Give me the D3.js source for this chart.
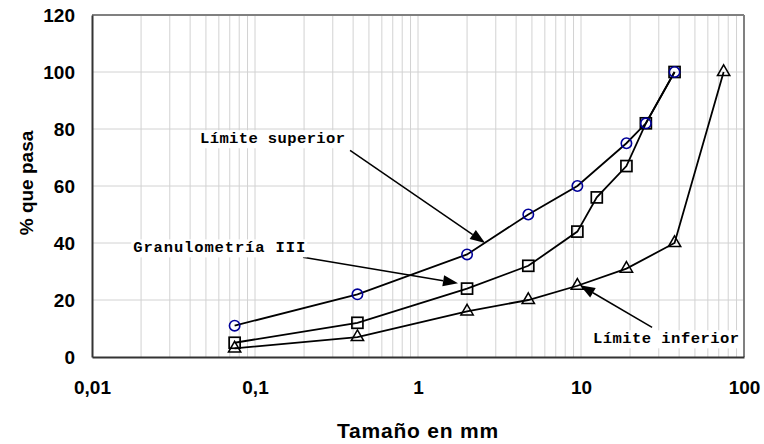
<!DOCTYPE html>
<html>
<head>
<meta charset="utf-8">
<script src="https://cdn.jsdelivr.net/npm/d3@7/dist/d3.min.js"></script>
<style>
  html, body { margin: 0; padding: 0; background: #fff; }
  svg { display: block; }
</style>
</head>
<body>
<svg id="chart" width="764" height="444"></svg>
<script>
// Sieve openings (mm) and percent passing for each curve
const supSizes  = [0.075, 0.425, 2, 4.75, 9.5, 19, 25, 37.5];
const supVals   = [11, 22, 36, 50, 60, 75, 82, 100];
const granSizes = [0.075, 0.425, 2, 4.75, 9.5, 12.5, 19, 25, 37.5];
const granVals  = [5, 12, 24, 32, 44, 56, 67, 82, 100];
const infSizes  = [0.075, 0.425, 2, 4.75, 9.5, 19, 37.5, 75];
const infVals   = [3, 7, 16, 20, 25, 31, 40, 100];

const xTicks = [0.01, 0.1, 1, 10, 100];
const xTickLabels = ["0,01", "0,1", "1", "10", "100"];
const yTicks = [0, 20, 40, 60, 80, 100, 120];

// Callout labels: text, label start [mm, %], arrow from [mm, %] to [mm, %], text width
const callouts = [
  { text: "Límite superior",   at: [0.046, 75],    from: [0.383, 72.5], to: [2.58, 40],   w: 145 },
  { text: "Granulometría III", at: [0.0179, 36.7], from: [0.197, 35],   to: [1.76, 25.9], w: 172 },
  { text: "Límite inferior",   at: [11.85, 4.8],   from: [27.3, 10.4],  to: [9.86, 25.2], w: 146 }
];

const margin = { left: 92, top: 15, right: 20, bottom: 87 };
const W = 764, H = 444;
const iw = W - margin.left - margin.right;
const ih = H - margin.top - margin.bottom;

const svg = d3.select("#chart");
const g = svg.append("g").attr("transform", `translate(${margin.left},${margin.top})`);

const x = d3.scaleLog().domain([0.01, 100]).range([0, iw]);
const y = d3.scaleLinear().domain([0, 120]).range([ih, 0]);

// Grid: every 1..9 step of each decade, horizontal every 20
const minor = [];
for (let e = -2; e < 2; e++) for (let k = 1; k < 10; k++) minor.push(k * Math.pow(10, e));
g.append("g").selectAll("line").data(minor.filter(v => v > 0.01)).join("line")
  .attr("x1", d => x(d)).attr("x2", d => x(d))
  .attr("y1", 0).attr("y2", ih)
  .attr("stroke", "#d2d2d2").attr("stroke-width", 1);
g.append("g").selectAll("line").data(yTicks.filter(v => v > 0 && v < 120)).join("line")
  .attr("x1", 0).attr("x2", iw)
  .attr("y1", d => y(d)).attr("y2", d => y(d))
  .attr("stroke", "#d2d2d2").attr("stroke-width", 1);

// Frame: gray top/right, dark axes left/bottom
g.append("line").attr("x1", 0).attr("x2", iw).attr("y1", 0).attr("y2", 0)
  .attr("stroke", "#808080").attr("stroke-width", 2);
g.append("line").attr("x1", iw).attr("x2", iw).attr("y1", 0).attr("y2", ih)
  .attr("stroke", "#808080").attr("stroke-width", 2);

// Axes (labels only, no tick marks)
const xAxis = d3.axisBottom(x).tickValues(xTicks)
  .tickFormat((d, i) => xTickLabels[i]).tickSize(0).tickPadding(24);
const gx = g.append("g").attr("transform", `translate(0,${ih})`).call(xAxis);
gx.select(".domain").attr("stroke", "#333").attr("stroke-width", 2);
gx.selectAll("text").attr("font-family", "Liberation Sans, Arial, sans-serif")
  .attr("font-weight", "bold").attr("font-size", 19).attr("fill", "#000");

const yAxis = d3.axisLeft(y).tickValues(yTicks).tickSize(0).tickPadding(17);
const gy = g.append("g").call(yAxis);
gy.select(".domain").attr("stroke", "#333").attr("stroke-width", 2);
gy.selectAll("text").attr("font-family", "Liberation Sans, Arial, sans-serif")
  .attr("font-weight", "bold").attr("font-size", 19).attr("fill", "#000");

// Axis titles
svg.append("text")
  .attr("x", margin.left + iw / 2).attr("y", 438)
  .attr("text-anchor", "middle")
  .attr("font-family", "Liberation Sans, Arial, sans-serif")
  .attr("font-weight", "bold").attr("font-size", 21)
  .attr("letter-spacing", 0.8)
  .text("Tamaño en mm");
svg.append("text")
  .attr("transform", `translate(33,${margin.top + ih / 2 - 3}) rotate(-90)`)
  .attr("text-anchor", "middle")
  .attr("font-family", "Liberation Sans, Arial, sans-serif")
  .attr("font-weight", "bold").attr("font-size", 19)
  .text("% que pasa");

// Curves
const series = [
  { sizes: infSizes,  vals: infVals,  shape: "triangle" },
  { sizes: granSizes, vals: granVals, shape: "square" },
  { sizes: supSizes,  vals: supVals,  shape: "circle" }
];
const line = d3.line().x(d => x(d[0])).y(d => y(d[1]));

series.forEach(s => {
  const pts = s.sizes.map((d, i) => [d, s.vals[i]]);
  g.append("path").datum(pts).attr("d", line)
    .attr("fill", "none").attr("stroke", "#000").attr("stroke-width", 1.8);
});

series.forEach(s => {
  const pts = s.sizes.map((d, i) => [d, s.vals[i]]);
  const mg = g.append("g");
  if (s.shape === "circle") {
    mg.selectAll("circle").data(pts).join("circle")
      .attr("cx", d => x(d[0])).attr("cy", d => y(d[1])).attr("r", 5.2)
      .attr("fill", "none").attr("stroke", "#000099").attr("stroke-width", 1.6);
  } else if (s.shape === "square") {
    mg.selectAll("rect").data(pts).join("rect")
      .attr("x", d => x(d[0]) - 5.5).attr("y", d => y(d[1]) - 5.5)
      .attr("width", 11).attr("height", 11)
      .attr("fill", "none").attr("stroke", "#000").attr("stroke-width", 1.7);
  } else {
    const tri = d3.symbol().type(d3.symbolTriangle).size(66);
    mg.selectAll("path").data(pts).join("path")
      .attr("transform", d => `translate(${x(d[0])},${y(d[1])})`)
      .attr("d", tri)
      .attr("fill", "none").attr("stroke", "#000").attr("stroke-width", 1.5);
  }
});

// Callouts: label on white, line with filled arrowhead
callouts.forEach(c => {
  const x0 = x(c.from[0]), y0 = y(c.from[1]);
  const x1 = x(c.to[0]),   y1 = y(c.to[1]);
  const ang = Math.atan2(y1 - y0, x1 - x0);
  const len = 15, hw = 5.5;
  const bx = x1 - len * Math.cos(ang), by = y1 - len * Math.sin(ang);
  g.append("line").attr("x1", x0).attr("y1", y0).attr("x2", bx).attr("y2", by)
    .attr("stroke", "#000").attr("stroke-width", 1.5);
  g.append("path")
    .attr("d", `M${x1},${y1}L${bx + hw * Math.sin(ang)},${by - hw * Math.cos(ang)}L${bx - hw * Math.sin(ang)},${by + hw * Math.cos(ang)}Z`)
    .attr("fill", "#000");

  const lg = g.append("g");
  const bg = lg.append("rect").attr("fill", "#fff");
  const t = lg.append("text")
    .attr("x", x(c.at[0])).attr("y", y(c.at[1]))
    .attr("font-family", "Liberation Mono, Courier New, monospace")
    .attr("font-weight", "bold").attr("font-size", 15.5)
    .attr("textLength", c.w).attr("lengthAdjust", "spacing")
    .text(c.text);
  const b = t.node().getBBox();
  bg.attr("x", b.x - 2).attr("y", b.y).attr("width", b.width + 4).attr("height", b.height);
});
</script>
</body>
</html>
